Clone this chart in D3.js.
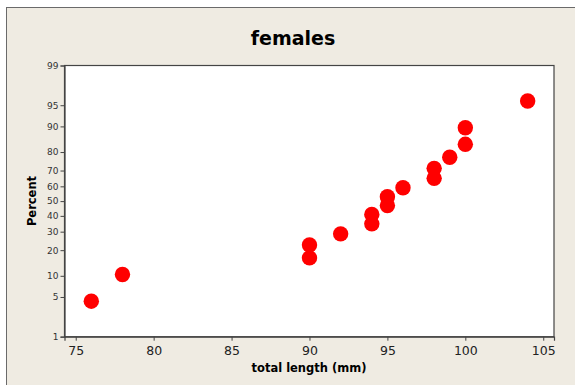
<!DOCTYPE html>
<html>
<head>
<meta charset="utf-8">
<script src="https://cdn.jsdelivr.net/npm/d3@7"></script>
<style>
  html, body { margin: 0; padding: 0; background: #fff; }
  svg { display: block; }
</style>
</head>
<body>
<figure id="probplot" style="margin:0"></figure>
<script>
// total length (mm) and the plotted percent for each female
const lengths = [76, 78, 90, 90, 92, 94, 94, 95, 95, 96, 98, 98, 99, 100, 100, 104];
const percents = [4.3, 10.4, 16.5, 22.6, 28.7, 34.8, 40.9, 47.0, 53.0, 59.1, 65.2, 71.3, 77.4, 83.5, 89.6, 95.7];
const xTicks = [75, 80, 85, 90, 95, 100, 105];
const yTicks = [1, 5, 10, 20, 30, 40, 50, 60, 70, 80, 90, 95, 99];

const width = 575, height = 385;
const margin = { top: 65.5, right: 21, bottom: 48.3, left: 64.5 };

// inverse normal cdf (Acklam) for the probability axis
function probit(p) {
  const a = [-39.69683028665376, 220.9460984245205, -275.9285104469687, 138.357751867269, -30.66479806614716, 2.506628277459239];
  const b = [-54.47609879822406, 161.5858368580409, -155.6989798598866, 66.80131188771972, -13.28068155288572];
  const c = [-0.007784894002430293, -0.3223964580411365, -2.400758277161838, -2.549732539343734, 4.374664141464968, 2.938163982698783];
  const d = [0.007784695709041462, 0.3224671290700398, 2.445134137142996, 3.754408661907416];
  const pl = 0.02425;
  let q, r;
  if (p < pl) {
    q = Math.sqrt(-2 * Math.log(p));
    return (((((c[0] * q + c[1]) * q + c[2]) * q + c[3]) * q + c[4]) * q + c[5]) /
      ((((d[0] * q + d[1]) * q + d[2]) * q + d[3]) * q + 1);
  }
  if (p > 1 - pl) {
    q = Math.sqrt(-2 * Math.log(1 - p));
    return -(((((c[0] * q + c[1]) * q + c[2]) * q + c[3]) * q + c[4]) * q + c[5]) /
      ((((d[0] * q + d[1]) * q + d[2]) * q + d[3]) * q + 1);
  }
  q = p - 0.5;
  r = q * q;
  return (((((a[0] * r + a[1]) * r + a[2]) * r + a[3]) * r + a[4]) * r + a[5]) * q /
    (((((b[0] * r + b[1]) * r + b[2]) * r + b[3]) * r + b[4]) * r + 1);
}

const svg = d3.select("figure#probplot")
  .append("svg")
  .attr("width", width)
  .attr("height", height);

// beige panel with its thin frame
svg.append("rect")
  .attr("x", 6.5).attr("y", 7.5)
  .attr("width", width).attr("height", height)
  .style("fill", "#efebe2")
  .style("stroke", "#6a6a6a")
  .style("stroke-width", "1px");

const x = d3.scaleLinear()
  .domain([74.28, 105.69])
  .range([margin.left, width - margin.right]);

const y = d3.scaleLinear()
  .domain([probit(0.01), probit(0.99)])
  .range([height - margin.bottom, margin.top]);

// data area
svg.append("rect")
  .attr("x", margin.left).attr("y", margin.top)
  .attr("width", x.range()[1] - margin.left)
  .attr("height", y.range()[0] - margin.top)
  .style("fill", "#fff")
  .style("stroke", "#444")
  .style("stroke-width", "1.2px");

const xAxis = svg.append("g")
  .attr("transform", "translate(0," + y.range()[0] + ")")
  .call(d3.axisBottom(x).tickValues(xTicks).tickSize(4).tickPadding(5));

xAxis.selectAll("text")
  .style("font-family", "Tahoma, 'DejaVu Sans', sans-serif")
  .style("font-size", "12.5px")
  .style("fill", "#222");

const yAxis = svg.append("g")
  .attr("transform", "translate(" + margin.left + ",0)")
  .call(d3.axisLeft(y)
    .tickValues(yTicks.map(p => probit(p / 100)))
    .tickFormat((v, i) => yTicks[i])
    .tickSize(4).tickPadding(2));

yAxis.selectAll("text")
  .style("font-family", "Tahoma, 'DejaVu Sans', sans-serif")
  .style("font-size", "9px")
  .style("fill", "#333");

svg.selectAll(".domain").style("stroke", "#444").style("stroke-width", "1.2px");
svg.selectAll(".tick line").style("stroke", "#444");

svg.append("g")
  .selectAll("circle")
  .data(lengths)
  .enter()
  .append("circle")
  .attr("cx", d => x(d))
  .attr("cy", (d, i) => y(probit(percents[i] / 100)))
  .attr("r", 7.7)
  .style("fill", "#ff0000");

svg.append("text")
  .attr("x", 293)
  .attr("y", 45)
  .attr("text-anchor", "middle")
  .style("font-family", "Tahoma, 'DejaVu Sans', sans-serif")
  .style("font-weight", "bold")
  .style("font-size", "19px")
  .text("females");

svg.append("text")
  .attr("x", 309)
  .attr("y", 372)
  .attr("text-anchor", "middle")
  .style("font-family", "Tahoma, 'DejaVu Sans', sans-serif")
  .style("font-weight", "bold")
  .style("font-size", "11.5px")
  .text("total length (mm)");

svg.append("text")
  .attr("transform", "translate(36,201) rotate(-90)")
  .attr("text-anchor", "middle")
  .style("font-family", "Tahoma, 'DejaVu Sans', sans-serif")
  .style("font-weight", "bold")
  .style("font-size", "11.5px")
  .text("Percent");
</script>
</body>
</html>
